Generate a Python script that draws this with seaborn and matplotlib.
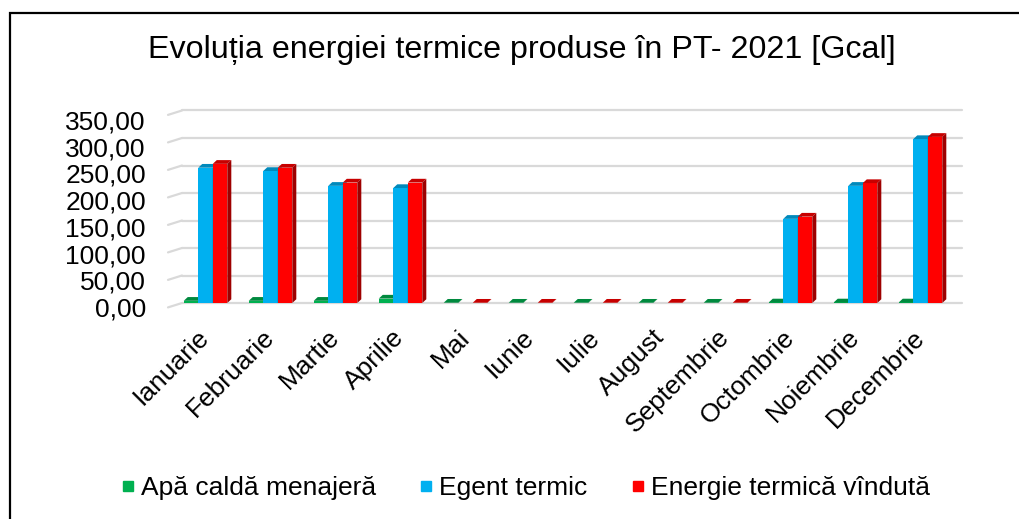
import numpy as np
import pandas as pd
import matplotlib
matplotlib.use("Agg")
import matplotlib.pyplot as plt
import seaborn as sns
from matplotlib.patches import Polygon, Rectangle
from matplotlib.lines import Line2D
from matplotlib.transforms import ScaledTranslation, blended_transform_factory

luni = ["Ianuarie", "Februarie", "Martie", "Aprilie", "Mai", "Iunie", "Iulie",
        "August", "Septembrie", "Octombrie", "Noiembrie", "Decembrie"]
serii = ["Apă caldă menajeră", "Egent termic", "Energie termică vîndută"]
culori = ["#00b050", "#00b0f0", "#ff0000"]

apa_calda = [4, 4, 4, 8, 0.5, 0.5, 0.5, 0.5, 0.5, 1, 1, 1]
agent_termic = [246, 240, 213, 209, np.nan, np.nan, np.nan, np.nan, np.nan, 153, 213, 298]
energie_vanduta = [253, 246, 219, 219, 0.5, 0.5, 0.5, 0.5, 0.5, 157, 218, 302]

y_ticks = [0, 50, 100, 150, 200, 250, 300, 350]

df = pd.DataFrame({
    "luna": luni * 3,
    "serie": np.repeat(serii, len(luni)),
    "valoare": apa_calda + agent_termic + energie_vanduta,
}).dropna()

sns.set_style("white")
plt.rcParams["font.family"] = ["Liberation Sans", "DejaVu Sans"]
plt.rcParams["text.color"] = "black"
plt.rcParams["xtick.color"] = "black"
plt.rcParams["ytick.color"] = "black"

fig = plt.figure(figsize=(10.19, 5.19), dpi=100)
ax = fig.add_axes([173 / 1019, 216 / 519, 780 / 1019, 192.5 / 519])

sns.barplot(data=df, x="luna", y="valoare", hue="serie", order=luni, hue_order=serii,
            palette=culori, saturation=1, width=0.67, errorbar=None, legend=False,
            linewidth=0, ax=ax)

# fake 3D look: top and side face for every bar
dx, dy = 0.062, 6.8
for p in list(ax.patches):
    fc = np.array(p.get_facecolor()[:3])
    k = culori.index(matplotlib.colors.to_hex(fc))
    x0, w, h = p.get_x(), p.get_width(), p.get_height()
    z = 3 + k
    p.set_zorder(z)
    top = Polygon([(x0, h), (x0 + w, h), (x0 + w + dx, h + dy), (x0 + dx, h + dy)],
                  closed=True, facecolor=fc * 0.78, linewidth=0, zorder=z)
    side = Polygon([(x0 + w, 0), (x0 + w + dx, dy), (x0 + w + dx, h + dy), (x0 + w, h)],
                   closed=True, facecolor=fc * 0.62, linewidth=0, zorder=z)
    ax.add_patch(top)
    ax.add_patch(side)

ax.set_xlim(-0.5, len(luni) - 0.5)
ax.set_ylim(0, 350)
ax.set_xlabel("")
ax.set_ylabel("")
for s in ax.spines.values():
    s.set_visible(False)

# gridlines on the back wall + short side-wall stubs
trans = blended_transform_factory(ax.transAxes, ax.transData)
x_back, x_end, x_front = 9 / 780, 789 / 780, -5 / 780
for v in y_ticks:
    ax.plot([x_back, x_end], [v, v], color="#d9d9d9", lw=1.6, transform=trans, zorder=1, clip_on=False)
    ax.plot([x_front, x_back], [v - 8, v], color="#d9d9d9", lw=1.6, transform=trans, zorder=1, clip_on=False)

ax.set_yticks(y_ticks)
ax.set_yticklabels([f"{v:.2f}".replace(".", ",") for v in y_ticks], fontsize=19)
ax.tick_params(axis="y", length=0, pad=19.5)
for lab, v in zip(ax.get_yticklabels(), y_ticks):
    lab.set_transform(lab.get_transform() + ScaledTranslation(0, -(4 + 0.016 * v) / 100, fig.dpi_scale_trans))

ax.set_xticks(range(len(luni)))
ax.set_xticklabels(luni, fontsize=19, rotation=45, ha="right", va="center", rotation_mode="anchor")
ax.tick_params(axis="x", length=0, pad=22)

fig.text(0.512, 1 - 50 / 519, "Evoluția energiei termice produse în PT- 2021 [Gcal]",
         ha="center", va="center", fontsize=23.2)

handles = [Line2D([], [], marker="s", linestyle="", markersize=7, color=c) for c in culori]
fig.legend(handles, serii, loc="center", bbox_to_anchor=(0.515, 1 - 488 / 519), ncol=3,
           frameon=False, fontsize=19, handlelength=0.6, handletextpad=0.2, columnspacing=1.6)

# chart border (right and bottom edges fall outside the picture)
fig.patches.append(Rectangle((10 / 1019, -0.2), 1.2, 1.2 - 13.5 / 519, transform=fig.transFigure,
                             fill=False, edgecolor="black", linewidth=1.6))

fig.savefig("out.png", dpi=100)
